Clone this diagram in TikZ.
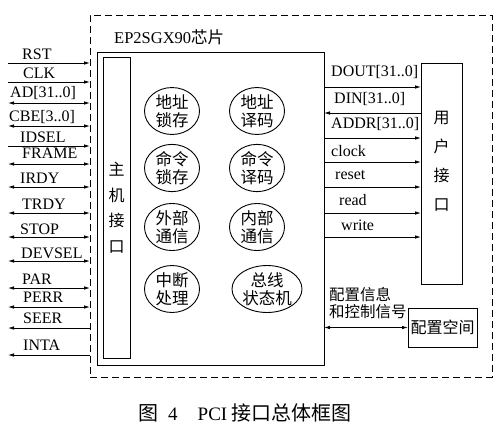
\documentclass[tikz,border=0pt]{standalone}
\usepackage{fontspec}
\setmainfont{Liberation Serif}
\newfontfamily\cjk{Noto Sans CJK SC}
\usetikzlibrary{arrows.meta,shapes.geometric}
\begin{document}
\begin{tikzpicture}[x=1pt,y=-1pt,
  sig/.style={font=\fontsize{16}{16}\selectfont, inner sep=0pt, anchor=west},
  zh/.style={font=\cjk\fontsize{15.5}{17}\selectfont, align=center, inner sep=0pt},
  oval/.style={ellipse, draw, line width=0.9pt, minimum width=55pt, minimum height=46pt, inner sep=0pt,
    font=\cjk\fontsize{16.5}{18}\selectfont, align=center},
  box/.style={draw, line width=0.9pt, inner sep=0pt, outer sep=0pt, anchor=north west},
  arr/.style={line width=0.8pt, -{Latex[length=6pt,width=3.5pt]}},
  larr/.style={line width=0.8pt, {Latex[length=6pt,width=3.5pt]}-},
  darr/.style={line width=0.8pt, {Latex[length=6pt,width=3.5pt]}-{Latex[length=6pt,width=3.5pt]}},
]
\useasboundingbox (0,0) rectangle (500,432);
\fill[white] (0,0) rectangle (500,432);

% outer chip boundary
\node[box, dash pattern=on 7pt off 4pt, line width=1pt, minimum width=402pt, minimum height=362pt] (chip) at (90,15) {};
\node[anchor=west, inner sep=0pt, font=\fontsize{16.5}{16.5}\selectfont] (title) at (114,37) {EP2SGX90{\cjk 芯片}};

% main logic box
\node[box, minimum width=227pt, minimum height=313pt] (main) at (97,52) {};
\node[box, minimum width=27pt, minimum height=301pt, font=\cjk\fontsize{16}{25.5}\selectfont, align=center] (host) at (103,57) {主\\机\\接\\口};

% function ovals
\node[oval] (o11) at (172,111) {地址\\锁存};
\node[oval] (o12) at (257,111) {地址\\译码};
\node[oval] (o21) at (172,168) {命令\\锁存};
\node[oval] (o22) at (257,168) {命令\\译码};
\node[oval] (o31) at (172,227) {外部\\通信};
\node[oval] (o32) at (257,227) {内部\\通信};
\node[oval] (o41) at (172,289) {中断\\处理};
\node[oval, minimum width=70pt] (o42) at (267,289) {总线\\状态机};

% user interface
\node[box, minimum width=41pt, minimum height=221pt] (user) at (421,63) {};
\node[zh, font=\cjk\fontsize{16}{29}\selectfont] (userlbl) at (441.5,161.5) {用\\户\\接\\口};

% config space
\node[box, minimum width=69pt, minimum height=39pt] (cfg) at (408,308) {};
\node[zh, font=\cjk\fontsize{16}{16}\selectfont] (cfglbl) at (442.5,327.5) {配置空间};
\node[zh, anchor=west, align=left] (cfginfo) at (329,303.5) {配置信息\\和控制信号};
\draw[darr] (cfg.west -| main.east) -- (cfg.west);

% right side signals
\foreach \n/\y/\ly/\lx/\t/\s in {
  r1/87/72/331/{DOUT[31..0]}/arr,
  r2/113/99/334/{DIN[31..0]}/larr,
  r3/138/124/331/{ADDR[31..0]}/arr,
  r4/162/151/331/{clock}/arr,
  r5/187/175/335/{reset}/arr,
  r6/213/200/339/{read}/arr,
  r7/237/225/341/{write}/arr}{
  \coordinate (\n) at (324,\y);
  \node[sig] (\n lbl) at (\lx,\ly) {\t};
  \draw[\s] (\n) -- (\n -| user.west);
}

% left side PCI signals
\foreach \n/\y/\ly/\lx/\t/\s in {
  l1/63/54/22/{RST}/arr,
  l2/82/73/23/{CLK}/arr,
  l3/103/93/10/{AD[31..0]}/darr,
  l4/126/117/9/{CBE[3..0]}/darr,
  l5/146/137/20/{IDSEL}/arr,
  l6/164/153/22/{FRAME}/darr,
  l7/187/178/20/{IRDY}/darr,
  l8/213/204/22/{TRDY}/darr,
  l9/237/229/20/{STOP}/darr,
  l10/261/253/21/{DEVSEL}/darr,
  l11/288/279/22/{PAR}/darr,
  l12/307/297/23/{PERR}/darr,
  l13/328/318/23/{SEER}/larr,
  l14/355/345/23/{INTA}/larr}{
  \coordinate (\n) at (8,\y);
  \node[sig] (\n lbl) at (\lx,\ly) {\t};
  \draw[\s] (\n) -- (\n -| chip.west);
}

% caption
\node[anchor=west, inner sep=0pt, font=\fontsize{19}{19}\selectfont] (caption) at (138,413) {{\cjk\fontsize{20}{20}\selectfont 图}\hspace{10pt}4\hspace{20pt}PCI\hspace{4pt}{\cjk\fontsize{20}{20}\selectfont 接口总体框图}};
\end{tikzpicture}
\end{document}
